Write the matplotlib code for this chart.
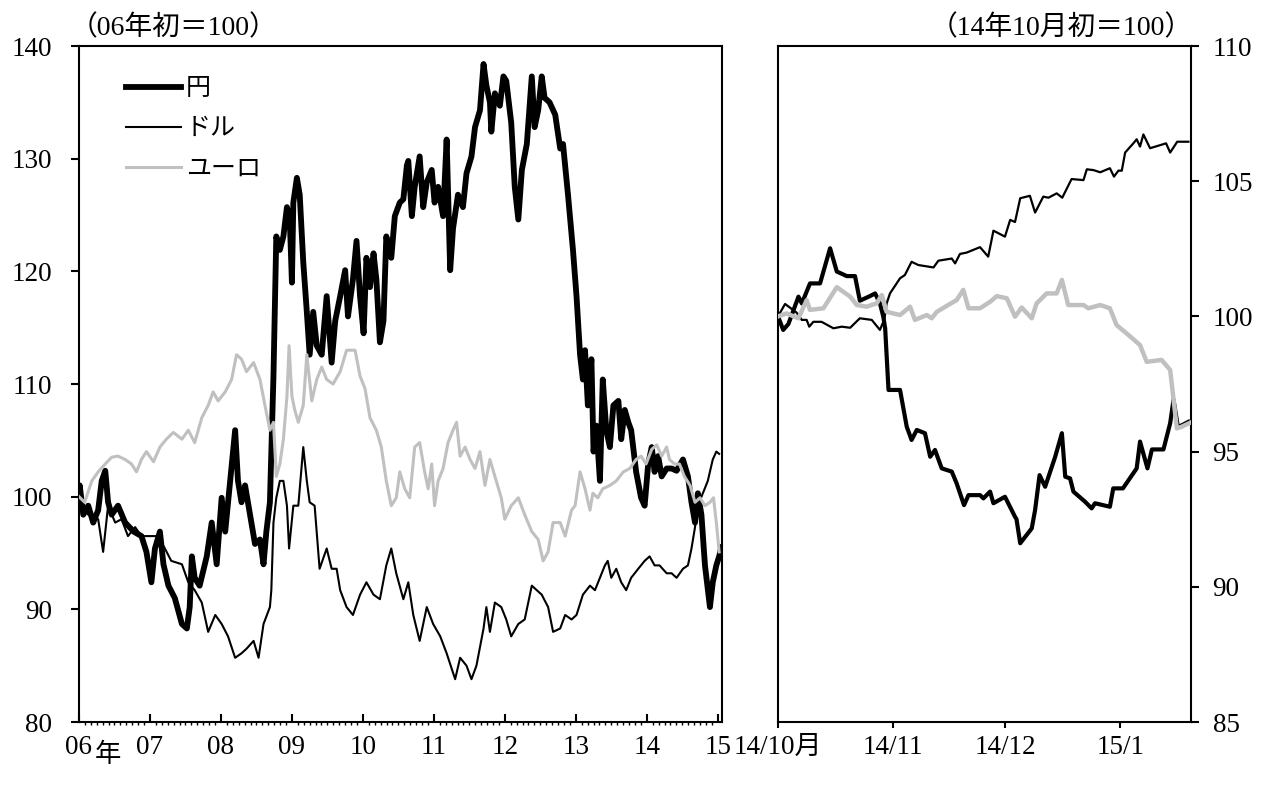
import matplotlib
matplotlib.use('Agg')
import matplotlib.pyplot as plt
from matplotlib.ticker import FixedLocator, NullFormatter

plt.rcParams['font.family'] = ['Liberation Serif', 'Noto Sans CJK JP']

# ---------------- Left panel data (06年初=100), time in decimal years -------------
series_names = ['円', 'ドル', 'ユーロ']

yen_t = [2006.00, 2006.01, 2006.06, 2006.13, 2006.20, 2006.27, 2006.32, 2006.37, 2006.41, 2006.46,
         2006.55, 2006.65, 2006.77, 2006.88, 2006.95, 2007.02, 2007.07, 2007.14, 2007.19, 2007.26,
         2007.35, 2007.45, 2007.52, 2007.56, 2007.59, 2007.63, 2007.70, 2007.80, 2007.87, 2007.94,
         2008.01, 2008.06, 2008.13, 2008.20, 2008.24, 2008.29, 2008.34, 2008.41, 2008.48, 2008.55,
         2008.60, 2008.64, 2008.69, 2008.74, 2008.78, 2008.83, 2008.88, 2008.93, 2008.97, 2009.00,
         2009.02, 2009.07, 2009.11, 2009.16, 2009.21, 2009.25, 2009.30, 2009.35, 2009.42, 2009.49,
         2009.56, 2009.61, 2009.68, 2009.75, 2009.79, 2009.86, 2009.91, 2009.96, 2010.01, 2010.05,
         2010.10, 2010.15, 2010.19, 2010.24, 2010.29, 2010.33, 2010.40, 2010.45, 2010.52, 2010.57,
         2010.62, 2010.64, 2010.69, 2010.73, 2010.80, 2010.85, 2010.90, 2010.97, 2011.01, 2011.06,
         2011.13, 2011.18, 2011.23, 2011.27, 2011.34, 2011.41, 2011.46, 2011.53, 2011.58, 2011.65,
         2011.70, 2011.74, 2011.79, 2011.81, 2011.86, 2011.93, 2011.98, 2012.02, 2012.09, 2012.14,
         2012.19, 2012.24, 2012.31, 2012.38, 2012.42, 2012.47, 2012.52, 2012.56, 2012.63, 2012.71,
         2012.78, 2012.82, 2012.89, 2012.96, 2013.01, 2013.06, 2013.10, 2013.13, 2013.17, 2013.22,
         2013.25, 2013.29, 2013.34, 2013.38, 2013.43, 2013.48, 2013.53, 2013.60, 2013.64, 2013.69,
         2013.74, 2013.78, 2013.85, 2013.92, 2013.97, 2014.02, 2014.07, 2014.11, 2014.16, 2014.21,
         2014.28, 2014.35, 2014.42, 2014.51, 2014.58, 2014.63, 2014.68, 2014.72, 2014.77, 2014.82,
         2014.89, 2014.93, 2014.98, 2015.02, 2015.05]
yen_v = [100.0, 101.0, 98.4, 99.2, 97.7, 98.8, 101.4, 102.3, 99.5, 98.4,
         99.2, 97.7, 96.9, 96.5, 95.1, 92.4, 95.4, 96.9, 94.0, 92.1,
         91.0, 88.7, 88.3, 90.2, 94.7, 92.8, 92.1, 94.7, 97.7, 94.0,
         99.9, 96.9, 101.4, 105.9, 101.4, 99.5, 101.0, 98.4, 95.8, 96.2,
         94.0, 96.9, 99.5, 110.7, 123.1, 121.9, 123.1, 125.7, 124.6, 119.0,
         126.1, 128.3, 126.8, 120.8, 116.4, 112.6, 116.4, 113.4, 112.6, 117.8,
         111.9, 115.6, 117.8, 120.1, 116.0, 119.3, 122.7, 117.8, 114.5, 121.2,
         118.6, 121.6, 119.3, 113.7, 115.6, 123.1, 121.2, 124.9, 126.1, 126.4,
         129.4, 129.8, 124.9, 127.5, 130.2, 125.7, 127.9, 129.0, 126.1, 127.5,
         124.9, 131.7, 120.1, 123.8, 126.8, 125.7, 128.7, 130.2, 132.8, 134.3,
         138.4, 136.5, 135.0, 132.4, 135.8, 134.7, 137.3, 136.9, 133.2, 127.5,
         124.6, 129.0, 131.3, 137.3, 132.8, 134.3, 137.3, 135.4, 135.0, 133.9,
         130.9, 131.3, 126.8, 121.9, 117.8, 112.6, 110.4, 113.0, 108.1, 112.2,
         104.0, 106.3, 101.4, 110.4, 105.9, 104.4, 108.1, 108.5, 105.1, 107.7,
         106.6, 105.9, 102.2, 99.9, 99.2, 102.9, 104.4, 102.2, 103.6, 101.8,
         102.5, 102.5, 102.3, 103.3, 101.8, 99.5, 97.7, 100.3, 98.4, 93.9,
         90.2, 92.4, 93.9, 94.7, 95.5]

usd_t = [2006.00, 2006.05, 2006.13, 2006.27, 2006.34, 2006.41, 2006.51, 2006.60, 2006.69, 2006.79,
         2006.88, 2007.02, 2007.11, 2007.21, 2007.30, 2007.45, 2007.54, 2007.63, 2007.73, 2007.82,
         2007.92, 2008.01, 2008.10, 2008.20, 2008.29, 2008.36, 2008.46, 2008.53, 2008.60, 2008.69,
         2008.71, 2008.74, 2008.78, 2008.83, 2008.88, 2008.93, 2008.96, 2009.02, 2009.09, 2009.16,
         2009.21, 2009.25, 2009.32, 2009.39, 2009.49, 2009.56, 2009.63, 2009.68, 2009.77, 2009.86,
         2009.96, 2010.05, 2010.15, 2010.24, 2010.33, 2010.40, 2010.47, 2010.57, 2010.64, 2010.71,
         2010.80, 2010.90, 2010.99, 2011.09, 2011.18, 2011.30, 2011.37, 2011.46, 2011.53, 2011.60,
         2011.70, 2011.74, 2011.79, 2011.86, 2011.95, 2012.02, 2012.09, 2012.19, 2012.28, 2012.38,
         2012.45, 2012.52, 2012.61, 2012.68, 2012.78, 2012.85, 2012.94, 2013.01, 2013.10, 2013.20,
         2013.27, 2013.34, 2013.41, 2013.45, 2013.50, 2013.57, 2013.64, 2013.71, 2013.78, 2013.88,
         2013.97, 2014.04, 2014.11, 2014.18, 2014.28, 2014.35, 2014.42, 2014.51, 2014.58, 2014.63,
         2014.68, 2014.72, 2014.79, 2014.86, 2014.93, 2014.98, 2015.02]
usd_v = [100.0, 99.2, 98.4, 98.0, 95.1, 99.2, 97.7, 98.0, 96.5, 97.3,
         96.5, 96.5, 96.5, 95.4, 94.3, 94.0, 92.4, 91.7, 90.6, 88.0,
         89.5, 88.7, 87.6, 85.7, 86.1, 86.5, 87.2, 85.7, 88.7, 90.2,
         91.7, 97.7, 99.9, 101.4, 101.4, 99.2, 95.4, 99.2, 99.2, 104.4,
         101.4, 99.5, 99.2, 93.6, 95.4, 93.6, 93.6, 91.7, 90.2, 89.5,
         91.3, 92.4, 91.3, 90.9, 93.9, 95.4, 93.2, 90.9, 92.4, 89.5,
         87.2, 90.2, 88.7, 87.6, 86.1, 83.8, 85.7, 85.0, 83.8, 85.0,
         88.3, 90.2, 88.0, 90.6, 90.2, 89.1, 87.6, 88.7, 89.1, 92.1,
         91.7, 91.3, 90.2, 88.0, 88.3, 89.5, 89.1, 89.5, 91.3, 92.1,
         91.7, 92.8, 93.9, 94.3, 92.8, 93.6, 92.4, 91.7, 92.8, 93.6,
         94.3, 94.7, 93.9, 93.9, 93.2, 93.2, 92.8, 93.6, 93.9, 95.4,
         97.3, 99.2, 100.3, 101.4, 103.3, 104.0, 103.8]

eur_t = [2006.00, 2006.08, 2006.18, 2006.27, 2006.37, 2006.46, 2006.55, 2006.65, 2006.74, 2006.81,
         2006.88, 2006.95, 2007.05, 2007.14, 2007.23, 2007.33, 2007.45, 2007.54, 2007.63, 2007.73,
         2007.82, 2007.89, 2007.96, 2008.06, 2008.15, 2008.22, 2008.29, 2008.36, 2008.46, 2008.55,
         2008.62, 2008.69, 2008.74, 2008.78, 2008.83, 2008.88, 2008.93, 2008.96, 2009.00, 2009.04,
         2009.09, 2009.16, 2009.21, 2009.28, 2009.35, 2009.42, 2009.49, 2009.58, 2009.68, 2009.77,
         2009.89, 2009.96, 2010.03, 2010.10, 2010.19, 2010.26, 2010.33, 2010.40, 2010.47, 2010.52,
         2010.59, 2010.66, 2010.73, 2010.80, 2010.87, 2010.92, 2010.97, 2011.01, 2011.06, 2011.13,
         2011.20, 2011.27, 2011.32, 2011.37, 2011.44, 2011.51, 2011.58, 2011.65, 2011.72, 2011.79,
         2011.86, 2011.95, 2012.00, 2012.09, 2012.19, 2012.28, 2012.38, 2012.47, 2012.54, 2012.61,
         2012.68, 2012.78, 2012.85, 2012.94, 2012.99, 2013.06, 2013.13, 2013.20, 2013.24, 2013.31,
         2013.38, 2013.48, 2013.57, 2013.67, 2013.76, 2013.85, 2013.92, 2013.99, 2014.07, 2014.14,
         2014.21, 2014.28, 2014.32, 2014.39, 2014.46, 2014.53, 2014.61, 2014.68, 2014.75, 2014.82,
         2014.89, 2014.94, 2014.98, 2015.02]
eur_v = [100.0, 99.5, 101.4, 102.2, 102.9, 103.5, 103.6, 103.3, 102.9, 102.2,
         103.3, 104.0, 103.1, 104.4, 105.1, 105.7, 105.1, 105.9, 104.8, 107.0,
         108.1, 109.3, 108.5, 109.3, 110.4, 112.6, 112.2, 111.1, 111.9, 110.4,
         108.1, 105.9, 106.6, 101.8, 102.9, 105.1, 108.9, 113.4, 108.9, 107.7,
         106.6, 108.1, 112.6, 108.5, 110.4, 111.5, 110.4, 110.0, 111.1, 113.0,
         113.0, 110.7, 109.6, 107.0, 105.9, 104.4, 101.4, 99.2, 99.9, 102.2,
         100.7, 99.9, 104.4, 104.8, 102.2, 100.7, 102.9, 99.2, 101.4, 102.5,
         104.8, 105.9, 106.6, 103.6, 104.4, 103.3, 102.5, 104.0, 101.0, 103.3,
         101.8, 99.9, 98.0, 99.2, 99.9, 98.4, 96.9, 96.2, 94.3, 95.1,
         97.7, 97.7, 96.5, 98.8, 99.2, 102.2, 100.7, 98.8, 100.3, 99.9,
         100.7, 101.0, 101.4, 102.2, 102.5, 103.3, 103.6, 102.9, 104.2, 104.6,
         103.6, 104.4, 103.3, 102.9, 102.9, 101.8, 101.0, 99.5, 99.9, 99.2,
         99.5, 99.9, 97.7, 95.1]

year_labels = ['06', '07', '08', '09', '10', '11', '12', '13', '14', '15']

# ---------------- Right panel data (14年10月初=100), days since 2014-10-01 -------------
r_yen_d = [0, 1.4, 2.8, 5.5, 6.4, 8.6, 11.3, 14.0, 15.8, 18.5, 20.7, 22.0, 24.7, 26.1, 27.4, 28.3,
           28.8, 29.7, 32.8, 34.6, 35.9, 37.3, 39.5, 40.9, 42.2, 44.0, 46.7, 48.0, 50.0, 51.2,
           54.3, 55.2, 57.0, 57.9, 61.0, 63.7, 64.1, 65.1, 68.2, 69.1, 70.3, 71.8, 74.5, 76.3,
           77.2, 78.5, 79.4, 82.5, 84.3, 85.2, 89.2, 90.1, 92.7, 96.4, 97.3, 99.3, 100.5, 103.6,
           105.4, 106.3, 107.5, 110.3]
r_yen_v = [100.0, 99.5, 99.72, 100.73, 100.48, 101.22, 101.22, 102.52, 101.66, 101.49, 101.49,
           100.58, 100.75, 100.85, 100.48, 99.99, 99.56, 97.28, 97.28, 95.92, 95.43, 95.8, 95.68,
           94.81, 95.06, 94.38, 94.26, 93.83, 93.02, 93.39, 93.39, 93.27, 93.52, 93.09, 93.33,
           92.59, 92.5, 91.61, 92.16, 92.84, 94.13, 93.70, 94.81, 95.68, 94.07, 94.01, 93.52,
           93.15, 92.9, 93.09, 92.96, 93.64, 93.64, 94.38, 95.37, 94.38, 95.08, 95.08, 96.05,
           96.91, 95.9, 96.1]

r_usd_d = [0, 1.9, 5.0, 6.4, 7.7, 8.4, 9.5, 11.7, 14.9, 17.1, 19.4, 22.0, 25.2, 27.4, 28.6,
           29.2, 30.1, 32.8, 34.1, 35.9, 37.7, 41.8, 43.1, 46.7, 47.6, 48.9, 50.7, 54.3, 56.5,
           57.9, 61.0, 62.4, 63.7, 65.1, 67.7, 69.1, 71.3, 72.7, 74.9, 76.4, 78.9, 82.1, 83.0,
           84.8, 86.6, 89.2, 90.3, 91.5, 92.4, 93.3, 95.5, 96.4, 97.3, 98.2, 100.0, 104.3, 105.4,
           107.3, 110.3]
r_usd_v = [100.0, 100.46, 100.14, 99.87, 99.87, 99.62, 99.8, 99.8, 99.56, 99.62, 99.58, 99.93,
           99.87, 99.5, 99.9, 100.48, 100.85, 101.41, 101.53, 102.02, 101.90, 101.81, 102.06,
           102.14, 101.96, 102.31, 102.36, 102.56, 102.21, 103.17, 102.95, 103.57, 103.49,
           104.37, 104.46, 103.84, 104.43, 104.39, 104.55, 104.39, 105.08, 105.04, 105.44,
           105.41, 105.33, 105.48, 105.17, 105.39, 105.39, 106.06, 106.4, 106.55, 106.28,
           106.73, 106.22, 106.4, 106.06, 106.46, 106.46]

r_eur_d = [0, 2.3, 5.5, 7.7, 8.6, 12.2, 15.8, 19.4, 21.2, 23.8, 26.5, 27.9, 29.2, 32.8, 35.5,
           36.8, 40.0, 41.3, 42.7, 46.2, 48.0, 49.8, 51.2, 54.3, 57.0, 58.8, 61.5, 63.7, 65.5,
           68.2, 69.5, 72.2, 74.9, 76.3, 78.0, 82.1, 83.4, 86.6, 89.2, 91.0, 93.7, 97.3, 99.1,
           103.1, 105.4, 107.2, 108.5, 110.8]
r_eur_v = [100.0, 100.11, 99.93, 100.6, 100.24, 100.3, 101.08, 100.73, 100.42, 100.36, 100.48,
           100.79, 100.17, 100.05, 100.36, 99.87, 100.05, 99.93, 100.17, 100.46, 100.6, 100.98,
           100.3, 100.3, 100.54, 100.75, 100.67, 99.99, 100.33, 99.93, 100.48, 100.85, 100.85,
           101.35, 100.42, 100.42, 100.3, 100.42, 100.3, 99.68, 99.37, 98.94, 98.32, 98.39,
           98.02, 95.86, 95.92, 96.07]

month_ticks = [0, 31, 61, 92]
month_labels = ['14/10月', '14/11', '14/12', '15/1']

# ---------------- Figure ----------------
W, H = 1281, 785
fig = plt.figure(figsize=(W / 100, H / 100), dpi=100)
ax1 = fig.add_axes([79 / W, 63 / H, 643 / W, 676 / H])
ax2 = fig.add_axes([778 / W, 63 / H, 413 / W, 676 / H])

GRAY = '#c0c0c0'
FS = 19.5

# Left panel
ax1.plot(yen_t, yen_v, color='black', lw=4.2, solid_joinstyle='round', label=series_names[0], zorder=3)
ax1.plot(usd_t, usd_v, color='black', lw=1.5, label=series_names[1], zorder=3)
ax1.plot(eur_t, eur_v, color=GRAY, lw=2.2, label=series_names[2], zorder=4)
ax1.set_xlim(2006.0, 2015.06)
ax1.set_ylim(80, 140)
ax1.set_yticks(range(80, 141, 10))
ax1.xaxis.set_major_locator(FixedLocator([2006 + i for i in range(10)]))
ax1.set_xticklabels(year_labels)
ax1.xaxis.set_minor_locator(FixedLocator([2006 + i / 12 for i in range(0, 109)]))
ax1.xaxis.set_minor_formatter(NullFormatter())
ax1.tick_params(axis='x', which='major', direction='in', length=6, width=1.5, pad=9.5, labelsize=FS)
ax1.tick_params(axis='x', which='minor', direction='out', length=2.5, width=1.0)
ax1.tick_params(axis='y', which='major', direction='out', length=6, width=1.5, pad=13.5, labelsize=FS)

leg = ax1.legend(loc='upper left', bbox_to_anchor=(0.038, 0.99), frameon=False,
                 handlelength=2.2, handletextpad=0.2, labelspacing=0.56,
                 prop={'family': ['Noto Sans CJK JP'], 'size': 18})

fig.text(95 / W, 1 - 755 / H, '年', ha='left', va='center', fontsize=19, family=['Noto Sans CJK JP'])

# Right panel
ax2.plot(r_yen_d, r_yen_v, color='black', lw=3.0, label=series_names[0], zorder=3)
ax2.plot(r_usd_d, r_usd_v, color='black', lw=1.6, label=series_names[1], zorder=3)
ax2.plot(r_eur_d, r_eur_v, color=GRAY, lw=3.2, label=series_names[2], zorder=4)
ax2.set_xlim(0, 111)
ax2.set_ylim(85, 110)
ax2.set_yticks(range(85, 111, 5))
ax2.yaxis.tick_right()
ax2.set_xticks(month_ticks)
ax2.set_xticklabels(month_labels)
ax2.tick_params(axis='x', direction='out', length=4.5, width=1.5, pad=5, labelsize=FS)
ax2.tick_params(axis='y', direction='out', length=6, width=1.5, pad=9.5, labelsize=FS)

for ax in (ax1, ax2):
    for sp in ax.spines.values():
        sp.set_linewidth(1.5)
        sp.set_color('black')

fig.text(70 / W, 1 - 28 / H, '（06年初＝100）', ha='left', va='center', fontsize=20)
fig.text(1193 / W, 1 - 28 / H, '（14年10月初＝100）', ha='right', va='center', fontsize=20)

fig.savefig('out.png', dpi=100)
